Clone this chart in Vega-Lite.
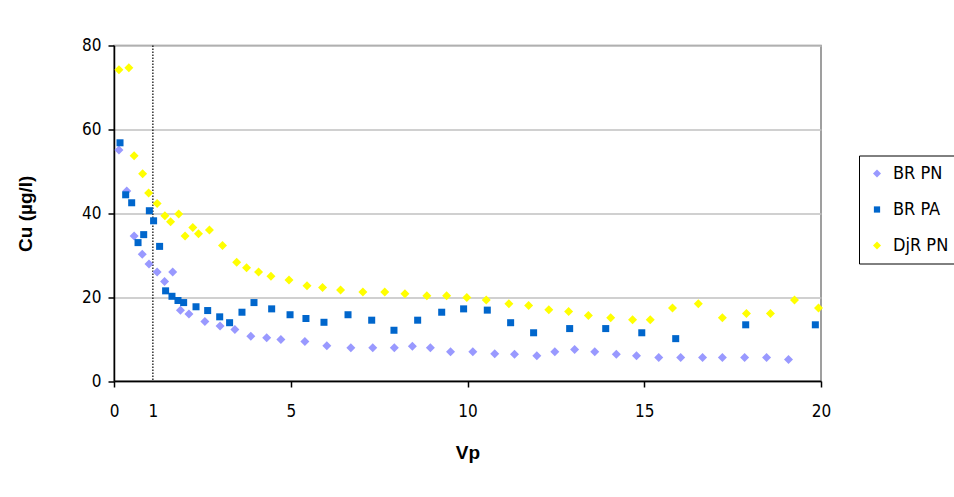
{
  "$schema": "https://vega.github.io/schema/vega-lite/v6.json",
  "width": 707,
  "height": 335.5,
  "autosize": {"type": "none"},
  "padding": {"left": 114, "top": 45.5, "right": 133, "bottom": 116},
  "background": "white",
  "config": {
    "font": "Liberation Sans",
    "view": {"stroke": "#808080", "strokeWidth": 1.5},
    "axis": {
      "labelFont": "'DejaVu Sans Condensed', 'Liberation Sans', sans-serif",
      "labelFontSize": 17,
      "labelColor": "black",
      "titleFont": "Liberation Sans",
      "titleFontSize": 19,
      "titleFontWeight": "bold",
      "titleColor": "black",
      "domainColor": "black",
      "domainWidth": 1.5,
      "tickColor": "black",
      "tickWidth": 1.5,
      "tickSize": 6
    },
    "legend": {
      "labelFont": "'DejaVu Sans Condensed', 'Liberation Sans', sans-serif",
      "labelFontSize": 18,
      "labelColor": "black"
    }
  },
  "datasets": {
    "marker": [{"vp": 1.1}],
    "points": [
      {"series": "BR PN", "vp": 0.14, "cu": 55.1},
      {"series": "BR PN", "vp": 0.36, "cu": 45.3},
      {"series": "BR PN", "vp": 0.57, "cu": 34.6},
      {"series": "BR PN", "vp": 0.80, "cu": 30.2},
      {"series": "BR PN", "vp": 0.99, "cu": 27.9},
      {"series": "BR PN", "vp": 1.22, "cu": 26.0},
      {"series": "BR PN", "vp": 1.43, "cu": 23.7},
      {"series": "BR PN", "vp": 1.66, "cu": 26.0},
      {"series": "BR PN", "vp": 1.88, "cu": 16.9},
      {"series": "BR PN", "vp": 2.12, "cu": 16.0},
      {"series": "BR PN", "vp": 2.57, "cu": 14.2},
      {"series": "BR PN", "vp": 3.00, "cu": 13.1},
      {"series": "BR PN", "vp": 3.42, "cu": 12.3},
      {"series": "BR PN", "vp": 3.87, "cu": 10.7},
      {"series": "BR PN", "vp": 4.32, "cu": 10.3},
      {"series": "BR PN", "vp": 4.72, "cu": 9.9},
      {"series": "BR PN", "vp": 5.40, "cu": 9.4},
      {"series": "BR PN", "vp": 6.02, "cu": 8.4},
      {"series": "BR PN", "vp": 6.70, "cu": 7.9},
      {"series": "BR PN", "vp": 7.32, "cu": 7.9},
      {"series": "BR PN", "vp": 7.93, "cu": 7.9},
      {"series": "BR PN", "vp": 8.44, "cu": 8.3},
      {"series": "BR PN", "vp": 8.95, "cu": 7.9},
      {"series": "BR PN", "vp": 9.52, "cu": 7.0},
      {"series": "BR PN", "vp": 10.15, "cu": 7.0},
      {"series": "BR PN", "vp": 10.77, "cu": 6.5},
      {"series": "BR PN", "vp": 11.33, "cu": 6.4},
      {"series": "BR PN", "vp": 11.96, "cu": 6.0},
      {"series": "BR PN", "vp": 12.47, "cu": 7.0},
      {"series": "BR PN", "vp": 13.03, "cu": 7.5},
      {"series": "BR PN", "vp": 13.60, "cu": 7.0},
      {"series": "BR PN", "vp": 14.21, "cu": 6.4},
      {"series": "BR PN", "vp": 14.78, "cu": 6.0},
      {"series": "BR PN", "vp": 15.41, "cu": 5.6},
      {"series": "BR PN", "vp": 16.03, "cu": 5.6},
      {"series": "BR PN", "vp": 16.65, "cu": 5.6},
      {"series": "BR PN", "vp": 17.21, "cu": 5.6},
      {"series": "BR PN", "vp": 17.84, "cu": 5.6},
      {"series": "BR PN", "vp": 18.46, "cu": 5.6},
      {"series": "BR PN", "vp": 19.08, "cu": 5.1},
      {"series": "BR PA", "vp": 0.17, "cu": 56.8},
      {"series": "BR PA", "vp": 0.33, "cu": 44.4},
      {"series": "BR PA", "vp": 0.50, "cu": 42.5},
      {"series": "BR PA", "vp": 0.68, "cu": 33.0},
      {"series": "BR PA", "vp": 0.84, "cu": 34.9},
      {"series": "BR PA", "vp": 1.00, "cu": 40.6},
      {"series": "BR PA", "vp": 1.12, "cu": 38.2},
      {"series": "BR PA", "vp": 1.29, "cu": 32.1},
      {"series": "BR PA", "vp": 1.46, "cu": 21.5},
      {"series": "BR PA", "vp": 1.64, "cu": 20.2},
      {"series": "BR PA", "vp": 1.81, "cu": 19.2},
      {"series": "BR PA", "vp": 1.97, "cu": 18.7},
      {"series": "BR PA", "vp": 2.32, "cu": 17.7},
      {"series": "BR PA", "vp": 2.65, "cu": 16.8},
      {"series": "BR PA", "vp": 2.99, "cu": 15.3},
      {"series": "BR PA", "vp": 3.27, "cu": 13.9},
      {"series": "BR PA", "vp": 3.62, "cu": 16.4},
      {"series": "BR PA", "vp": 3.96, "cu": 18.7},
      {"series": "BR PA", "vp": 4.46, "cu": 17.2},
      {"series": "BR PA", "vp": 4.98, "cu": 15.8},
      {"series": "BR PA", "vp": 5.43, "cu": 14.9},
      {"series": "BR PA", "vp": 5.94, "cu": 14.0},
      {"series": "BR PA", "vp": 6.62, "cu": 15.8},
      {"series": "BR PA", "vp": 7.29, "cu": 14.5},
      {"series": "BR PA", "vp": 7.92, "cu": 12.1},
      {"series": "BR PA", "vp": 8.59, "cu": 14.5},
      {"series": "BR PA", "vp": 9.27, "cu": 16.4},
      {"series": "BR PA", "vp": 9.89, "cu": 17.2},
      {"series": "BR PA", "vp": 10.56, "cu": 16.9},
      {"series": "BR PA", "vp": 11.22, "cu": 13.9},
      {"series": "BR PA", "vp": 11.87, "cu": 11.5},
      {"series": "BR PA", "vp": 12.89, "cu": 12.5},
      {"series": "BR PA", "vp": 13.91, "cu": 12.5},
      {"series": "BR PA", "vp": 14.93, "cu": 11.5},
      {"series": "BR PA", "vp": 15.89, "cu": 10.1},
      {"series": "BR PA", "vp": 17.87, "cu": 13.4},
      {"series": "BR PA", "vp": 19.84, "cu": 13.4},
      {"series": "DjR PN", "vp": 0.14, "cu": 74.2},
      {"series": "DjR PN", "vp": 0.42, "cu": 74.7},
      {"series": "DjR PN", "vp": 0.57, "cu": 53.7},
      {"series": "DjR PN", "vp": 0.81, "cu": 49.4},
      {"series": "DjR PN", "vp": 0.98, "cu": 44.8},
      {"series": "DjR PN", "vp": 1.22, "cu": 42.3},
      {"series": "DjR PN", "vp": 1.44, "cu": 39.4},
      {"series": "DjR PN", "vp": 1.60, "cu": 38.0},
      {"series": "DjR PN", "vp": 1.83, "cu": 39.8},
      {"series": "DjR PN", "vp": 2.01, "cu": 34.6},
      {"series": "DjR PN", "vp": 2.23, "cu": 36.6},
      {"series": "DjR PN", "vp": 2.39, "cu": 35.1},
      {"series": "DjR PN", "vp": 2.70, "cu": 36.0},
      {"series": "DjR PN", "vp": 3.07, "cu": 32.3},
      {"series": "DjR PN", "vp": 3.47, "cu": 28.3},
      {"series": "DjR PN", "vp": 3.75, "cu": 27.0},
      {"series": "DjR PN", "vp": 4.09, "cu": 26.0},
      {"series": "DjR PN", "vp": 4.44, "cu": 25.0},
      {"series": "DjR PN", "vp": 4.95, "cu": 24.1},
      {"series": "DjR PN", "vp": 5.46, "cu": 22.7},
      {"series": "DjR PN", "vp": 5.90, "cu": 22.3},
      {"series": "DjR PN", "vp": 6.41, "cu": 21.7},
      {"series": "DjR PN", "vp": 7.04, "cu": 21.2},
      {"series": "DjR PN", "vp": 7.66, "cu": 21.2},
      {"series": "DjR PN", "vp": 8.23, "cu": 20.8},
      {"series": "DjR PN", "vp": 8.85, "cu": 20.3},
      {"series": "DjR PN", "vp": 9.41, "cu": 20.3},
      {"series": "DjR PN", "vp": 9.98, "cu": 19.9},
      {"series": "DjR PN", "vp": 10.53, "cu": 19.3},
      {"series": "DjR PN", "vp": 11.17, "cu": 18.4},
      {"series": "DjR PN", "vp": 11.73, "cu": 18.0},
      {"series": "DjR PN", "vp": 12.30, "cu": 17.0},
      {"series": "DjR PN", "vp": 12.86, "cu": 16.6},
      {"series": "DjR PN", "vp": 13.42, "cu": 15.6},
      {"series": "DjR PN", "vp": 14.05, "cu": 15.1},
      {"series": "DjR PN", "vp": 14.67, "cu": 14.6},
      {"series": "DjR PN", "vp": 15.17, "cu": 14.6},
      {"series": "DjR PN", "vp": 15.80, "cu": 17.4},
      {"series": "DjR PN", "vp": 16.53, "cu": 18.4},
      {"series": "DjR PN", "vp": 17.21, "cu": 15.1},
      {"series": "DjR PN", "vp": 17.89, "cu": 16.1},
      {"series": "DjR PN", "vp": 18.57, "cu": 16.1},
      {"series": "DjR PN", "vp": 19.25, "cu": 19.3},
      {"series": "DjR PN", "vp": 19.93, "cu": 17.4}
    ]
  },
  "layer": [
    {
      "data": {"name": "marker"},
      "mark": {"type": "rule", "color": "black", "strokeWidth": 1.2, "strokeDash": [1.5, 1.5]},
      "encoding": {
        "x": {"field": "vp", "type": "quantitative", "scale": {"domain": [0, 20], "nice": false}}
      }
    },
    {
      "data": {"name": "points"},
      "mark": {"type": "point", "filled": true, "opacity": 1, "size": 81, "strokeWidth": 0},
      "encoding": {
        "x": {
          "field": "vp",
          "type": "quantitative",
          "scale": {"domain": [0, 20], "nice": false},
          "axis": {
            "values": [0, 1.1, 5, 10, 15, 20],
            "labelExpr": "datum.value == 1.1 ? '1' : datum.label",
            "tickOpacity": {"condition": {"test": "datum.value == 1.1", "value": 0}, "value": 1},
            "grid": false,
            "labelPadding": 16,
            "labelFlush": false,
            "title": "Vp",
            "titlePadding": 24
          }
        },
        "y": {
          "field": "cu",
          "type": "quantitative",
          "scale": {"domain": [0, 80], "nice": false},
          "axis": {
            "values": [0, 20, 40, 60, 80],
            "grid": true,
            "gridColor": "#c0c0c0",
            "gridWidth": 1.5,
            "labelPadding": 7,
            "title": "Cu (µg/l)",
            "titlePadding": 46
          }
        },
        "color": {
          "field": "series",
          "type": "nominal",
          "scale": {"domain": ["BR PN", "BR PA", "DjR PN"], "range": ["#9999FF", "#0066CC", "#FFFF00"]},
          "legend": {
            "title": null,
            "orient": "none",
            "legendX": 745,
            "legendY": 110,
            "strokeColor": "black",
            "fillColor": "white",
            "padding": 9,
            "rowPadding": 18,
            "labelOffset": 7,
            "symbolSize": 64,
            "symbolStrokeWidth": 0
          }
        },
        "shape": {
          "field": "series",
          "type": "nominal",
          "scale": {"domain": ["BR PN", "BR PA", "DjR PN"], "range": ["diamond", "M-0.78,-0.78H0.78V0.78H-0.78Z", "diamond"]}
        }
      }
    }
  ]
}
